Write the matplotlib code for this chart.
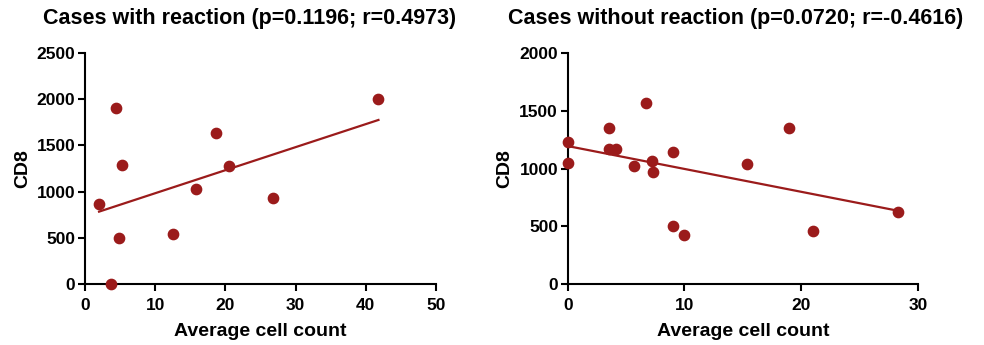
import matplotlib.pyplot as plt
import numpy as np

plt.rcParams['font.family'] = ['Liberation Sans', 'DejaVu Sans']
plt.rcParams['font.weight'] = 'bold'

# cases with reaction
with_x = [2.0, 4.4, 5.3, 4.8, 3.7, 12.5, 15.8, 18.7, 20.5, 26.8, 41.8]
with_y = [867, 1906, 1291, 496, 0, 543, 1025, 1637, 1273, 932, 2000]

# cases without reaction
without_x = [0.0, 0.0, 3.5, 3.5, 4.1, 6.7, 5.7, 7.2, 7.3, 9.0, 9.0, 10.0, 15.4, 19.0, 21.0, 28.3]
without_y = [1230, 1052, 1351, 1170, 1170, 1563, 1023, 1069, 974, 1141, 506, 425, 1037, 1351, 463, 624]

titles = ['Cases with reaction (p=0.1196; r=0.4973)',
          'Cases without reaction (p=0.0720; r=-0.4616)']
x_ticks = [[0, 10, 20, 30, 40, 50], [0, 10, 20, 30]]
y_ticks = [[0, 500, 1000, 1500, 2000, 2500], [0, 500, 1000, 1500, 2000]]

red = '#9b1b1b'

fig = plt.figure(figsize=(9.84, 3.45), dpi=100)
ax1 = fig.add_axes([0.0864, 0.176, 0.3567, 0.671])
ax2 = fig.add_axes([0.577, 0.176, 0.3557, 0.671])

data = [(with_x, with_y), (without_x, without_y)]
title_x = [0.254, 0.748]
for i, ax in enumerate([ax1, ax2]):
    x, y = np.array(data[i][0]), np.array(data[i][1])
    ax.scatter(x, y, s=55, color=red, zorder=3, clip_on=False)
    # linear fit
    k, b = np.polyfit(x, y, 1)
    xs = np.array([x.min(), x.max()])
    ax.plot(xs, k * xs + b, color=red, lw=1.6)
    ax.set_xlim(x_ticks[i][0], x_ticks[i][-1])
    ax.set_ylim(y_ticks[i][0], y_ticks[i][-1])
    ax.set_xticks(x_ticks[i])
    ax.set_yticks(y_ticks[i])
    ax.spines['top'].set_visible(False)
    ax.spines['right'].set_visible(False)
    ax.spines['left'].set_linewidth(1.5)
    ax.spines['bottom'].set_linewidth(1.5)
    ax.tick_params(direction='out', length=5, width=1.5, labelsize=12.5)
    ax.tick_params(axis='x', pad=5)
    ax.tick_params(axis='y', pad=2)
    for lab in ax.get_xticklabels() + ax.get_yticklabels():
        lab.set_fontweight('bold')
    ax.set_xlabel('Average cell count', fontsize=14, fontweight='bold', labelpad=7)
    ax.set_ylabel('CD8', fontsize=14, fontweight='bold', labelpad=4)
    fig.text(title_x[i], 0.945, titles[i], ha='center', va='center',
             fontsize=15.5, fontweight='bold')

plt.savefig('out.png', dpi=100)
